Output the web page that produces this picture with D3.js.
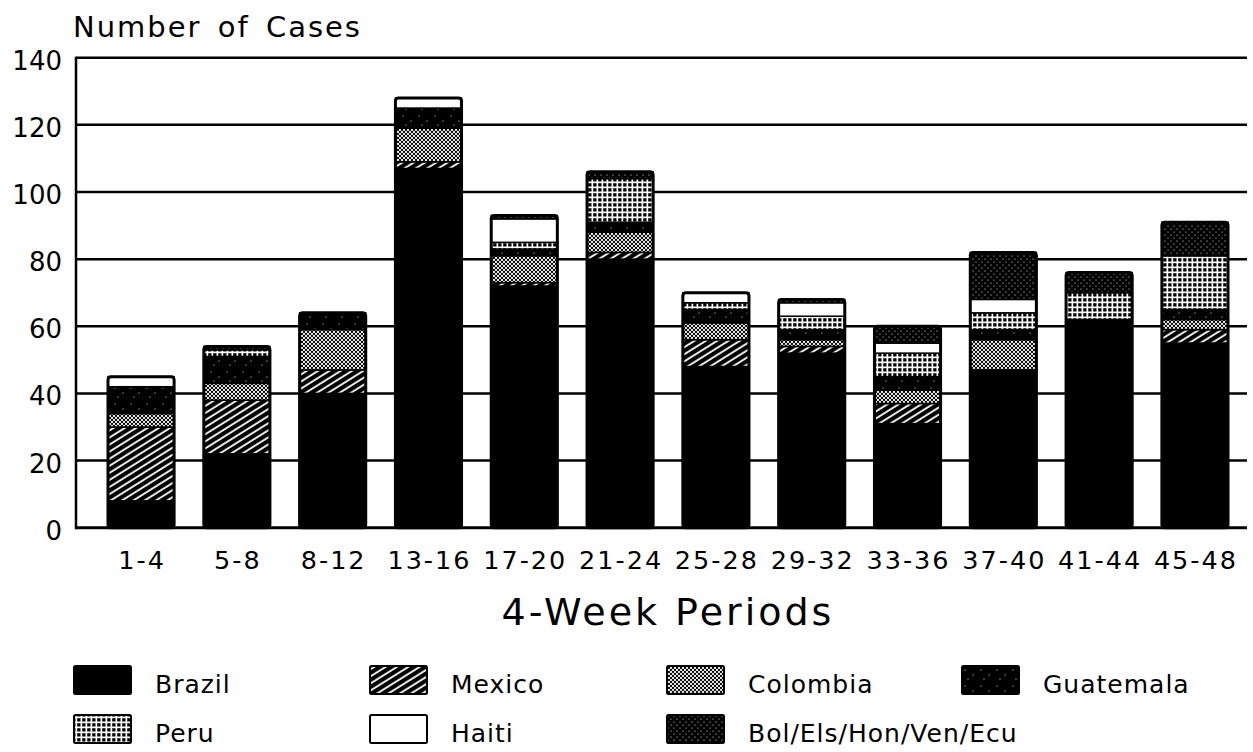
<!DOCTYPE html>
<html>
<head>
<meta charset="utf-8">
<script src="https://cdn.jsdelivr.net/npm/d3@7"></script>
<style>
body { margin: 0; background: #fff; }
svg text { font-family: "DejaVu Sans", "Liberation Sans", Arial, sans-serif; fill: #000; }
</style>
</head>
<body>
<svg id="chart" width="1253" height="752"></svg>
<script>
// data (cases per country, stacked bottom to top)
var periods   = ["1-4", "5-8", "8-12", "13-16", "17-20", "21-24", "25-28", "29-32", "33-36", "37-40", "41-44", "45-48"];
var brazil    = [8, 22, 40, 107, 72, 80, 48, 52, 31, 47, 61, 55];
var mexico    = [22, 16, 7, 2, 1, 2, 8, 2, 6, 0, 0, 4];
var colombia  = [4, 5, 12, 10, 8, 6, 5, 2, 4, 9, 0, 3];
var guatemala = [8, 8, 5, 6, 2, 3, 4, 3, 4, 3, 1, 3];
var peru      = [0, 2, 0, 0, 2, 13, 2, 4, 7, 5, 8, 16];
var haiti     = [3, 0, 0, 3, 7, 0, 3, 4, 3, 4, 0, 0];
var other     = [0, 1, 0, 0, 1, 2, 0, 1, 5, 14, 6, 10];
var seriesNames = ["Brazil", "Mexico", "Colombia", "Guatemala", "Peru", "Haiti", "Bol/Els/Hon/Ven/Ecu"];
var yTicks = [0, 20, 40, 60, 80, 100, 120, 140];

var seriesValues = [brazil, mexico, colombia, guatemala, peru, haiti, other];
var table = periods.map(function(p, i) {
  var row = { period: p };
  seriesNames.forEach(function(s, k) { row[s] = seriesValues[k][i]; });
  return row;
});

var svg = d3.select("#chart");
var left = 76, right = 1247;

var x = d3.scaleBand().domain(periods).range([108, 1228]).paddingInner(0.31).paddingOuter(0);
var y = d3.scaleLinear().domain([0, 140]).range([527.7, 57.7]);

// fill patterns
var defs = svg.append("defs");
function pat(id, w, h, tr) {
  var p = defs.append("pattern").attr("id", id)
    .attr("patternUnits", "userSpaceOnUse").attr("width", w).attr("height", h);
  if (tr) p.attr("patternTransform", tr);
  return p;
}
var p;
p = pat("pMexico", 8, 6, "rotate(-32)");
p.append("rect").attr("width", 8).attr("height", 6).attr("fill", "#000");
p.append("rect").attr("y", 2.2).attr("width", 8).attr("height", 1.8).attr("fill", "#fff");

p = pat("pColombia", 4, 4);
p.append("rect").attr("width", 4).attr("height", 4).attr("fill", "#fff");
[[0, 0], [4, 0], [0, 4], [4, 4], [2, 2]].forEach(function(c) {
  p.append("circle").attr("cx", c[0]).attr("cy", c[1]).attr("r", 1.15).attr("fill", "#000");
});

p = pat("pGuatemala", 16, 16);
p.append("rect").attr("width", 16).attr("height", 16).attr("fill", "#000");
[[3, 4], [11, 9], [6, 13]].forEach(function(c) {
  p.append("circle").attr("cx", c[0]).attr("cy", c[1]).attr("r", 0.6).attr("fill", "#fff");
});

p = pat("pPeru", 5, 5);
p.append("rect").attr("width", 5).attr("height", 5).attr("fill", "#000");
p.append("rect").attr("x", 0).attr("y", 1.5).attr("width", 5).attr("height", 1.7).attr("fill", "#fff");
p.append("rect").attr("x", 1.5).attr("y", 0).attr("width", 1.7).attr("height", 5).attr("fill", "#fff");

p = pat("pOther", 6, 6);
p.append("rect").attr("width", 6).attr("height", 6).attr("fill", "#000");
p.append("circle").attr("cx", 1).attr("cy", 1).attr("r", 0.55).attr("fill", "#fff");
p.append("circle").attr("cx", 4).attr("cy", 4).attr("r", 0.55).attr("fill", "#fff");

var fills = {
  "Brazil": "#000",
  "Mexico": "url(#pMexico)",
  "Colombia": "url(#pColombia)",
  "Guatemala": "url(#pGuatemala)",
  "Peru": "url(#pPeru)",
  "Haiti": "#fff",
  "Bol/Els/Hon/Ven/Ecu": "url(#pOther)"
};

// grid lines and axis
svg.append("g").selectAll("line")
  .data(yTicks)
  .enter().append("line")
  .attr("x1", left).attr("x2", right)
  .attr("y1", d => y(d)).attr("y2", d => y(d))
  .attr("stroke", "#000")
  .attr("stroke-width", d => d === 0 ? 3 : 2.5);

svg.append("line")
  .attr("x1", left).attr("x2", left)
  .attr("y1", y(0) + 1.5).attr("y2", y(140) - 1)
  .attr("stroke", "#000").attr("stroke-width", 2.5);

svg.append("g").selectAll("text")
  .data(yTicks)
  .enter().append("text")
  .attr("x", 62)
  .attr("y", d => y(d) + 12)
  .attr("text-anchor", "end")
  .style("font-size", "26px")
  .text(d => d);

// stacked bars
var stacked = d3.stack().keys(seriesNames)(table);

var layers = svg.append("g").selectAll("g")
  .data(stacked)
  .enter().append("g")
  .attr("fill", d => fills[d.key]);

layers.selectAll("rect")
  .data(d => d.filter(s => s[1] - s[0] > 0))
  .enter().append("rect")
  .attr("x", d => x(d.data.period))
  .attr("y", d => y(d[1]))
  .attr("width", x.bandwidth())
  .attr("height", d => y(d[0]) - y(d[1]))
  .attr("stroke", "#000")
  .attr("stroke-width", 1.5);

svg.append("g").selectAll("rect")
  .data(table)
  .enter().append("rect")
  .attr("x", d => x(d.period))
  .attr("y", d => y(d3.sum(seriesNames, s => d[s])))
  .attr("width", x.bandwidth())
  .attr("height", d => y(0) - y(d3.sum(seriesNames, s => d[s])))
  .attr("rx", 3)
  .attr("fill", "none")
  .attr("stroke", "#000")
  .attr("stroke-width", 3);

// x tick labels
svg.append("g").selectAll("text")
  .data(periods)
  .enter().append("text")
  .attr("x", d => x(d) + x.bandwidth() / 2 + 1)
  .attr("y", 569)
  .attr("text-anchor", "middle")
  .style("font-size", "25.5px")
  .style("letter-spacing", "2px")
  .text(d => d);

// titles
svg.append("text")
  .attr("x", 73).attr("y", 37)
  .style("font-size", "29px")
  .style("letter-spacing", "2px")
  .style("word-spacing", "5px")
  .text("Number of Cases");

svg.append("text")
  .attr("x", 668).attr("y", 625)
  .attr("text-anchor", "middle")
  .style("font-size", "38px")
  .style("letter-spacing", "3px")
  .text("4-Week Periods");

// legend
var legendCols = [74, 370, 667, 962];
var legendRows = [666, 715];
var legend = svg.append("g").selectAll("g")
  .data(seriesNames)
  .enter().append("g")
  .attr("transform", (d, i) => "translate(" + legendCols[i % 4] + "," + legendRows[Math.floor(i / 4)] + ")");

legend.append("rect")
  .attr("width", 57).attr("height", 28)
  .attr("rx", 1.5)
  .attr("fill", d => fills[d])
  .attr("stroke", "#000")
  .attr("stroke-width", 2);

legend.append("text")
  .attr("x", 81).attr("y", 27)
  .style("font-size", "25px")
  .style("letter-spacing", "1px")
  .text(d => d);
</script>
</body>
</html>
